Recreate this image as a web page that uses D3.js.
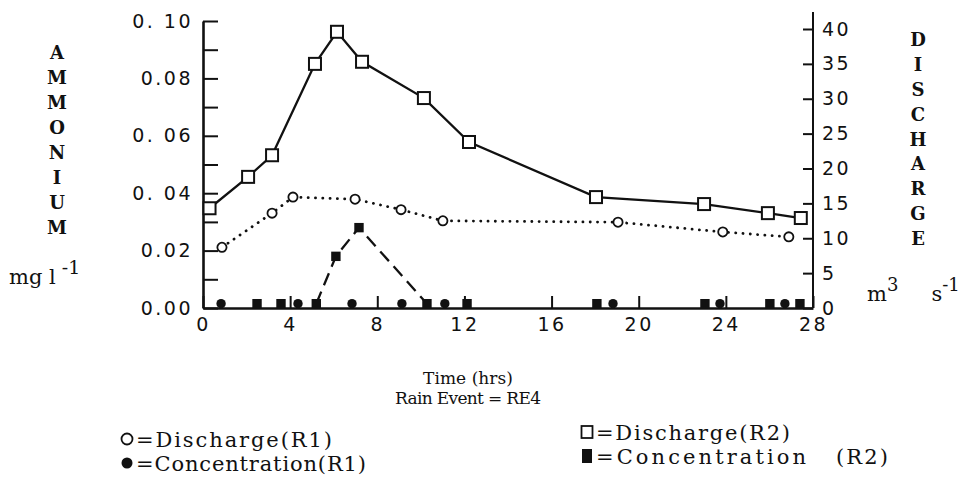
<!DOCTYPE html>
<html>
<head>
<meta charset="utf-8">
<script src="https://cdn.jsdelivr.net/npm/d3@7"></script>
<style>
  html, body { margin: 0; padding: 0; background: #fff; }
  svg { display: block; }
  .axis path, .axis line { stroke: #111; }
  .axis path { stroke-width: 2.6; }
  .axis line { stroke-width: 2; }
  .axis text {
    font-family: "DejaVu Sans", sans-serif;
    font-size: 19px;
    letter-spacing: 2.5px;
    fill: #111;
  }
  .type {
    font-family: "DejaVu Serif", serif;
    fill: #111;
  }
</style>
</head>
<body>
<svg id="chart" width="962" height="482"></svg>
<script>
// Rain event RE4
const hoursDischargeR2 = [0.3, 2.07, 3.17, 5.14, 6.15, 7.3, 10.14, 12.21, 18.04, 23.0, 25.93, 27.44];
const dischargeR2 = [14.3, 18.8, 21.9, 35.0, 39.6, 35.3, 30.1, 23.8, 15.9, 14.9, 13.6, 12.9];

const hoursDischargeR1 = [0.87, 3.17, 4.13, 6.98, 9.09, 11.01, 19.05, 23.86, 26.89];
const dischargeR1 = [8.7, 13.6, 15.9, 15.6, 14.1, 12.5, 12.3, 10.9, 10.2];

const hoursConcR2 = [2.48, 3.58, 5.2, 6.1, 7.16, 10.28, 12.12, 18.08, 23.04, 26.02, 27.4];
const concR2 = [0.0015, 0.0015, 0.0015, 0.018, 0.028, 0.0015, 0.0015, 0.0015, 0.0015, 0.0015, 0.0015];
// the dashed line only joins the samples of the ammonium pulse
const concR2Pulse = [5.2, 10.28];

const hoursConcR1 = [0.83, 4.36, 6.84, 9.13, 11.1, 18.82, 23.73, 26.71];
const concR1 = [0.0015, 0.0015, 0.0015, 0.0015, 0.0015, 0.0015, 0.0015, 0.0015];

const hourTicks = [0, 4, 8, 12, 16, 20, 24, 28];
const ammoniumTicks = [0, 0.01, 0.02, 0.03, 0.04, 0.05, 0.06, 0.07, 0.08, 0.09, 0.1];
const ammoniumTickLabels = ["0.00", "", "0.02", "", "0. 04", "", "0. 06", "", "0.08", "", "0. 10"];
const dischargeTicks = [0, 5, 10, 15, 20, 25, 30, 35, 40];

const leftTitle = "AMMONIUM";
const rightTitle = "DISCHARGE";

const legendItems = [
  { key: "dischargeR1", label: "=Discharge(R1)", tail: "", col: 0, row: 0, len: 196 },
  { key: "concR1", label: "=Concentration(R1)", tail: "", col: 0, row: 1, len: 230 },
  { key: "dischargeR2", label: "=Discharge(R2)", tail: "", col: 1, row: 0, len: 194 },
  { key: "concR2", label: "=Concentration", tail: "(R2)", col: 1, row: 1, len: 210 },
];

const zip = (xs, ys) => xs.map((x, i) => ({ t: x, v: ys[i] }));

const svg = d3.select("#chart");
const ink = "#111";

const margin = { top: 21, right: 149, bottom: 174, left: 203 };
const width = 962;
const height = 482;

const x = d3
  .scaleLinear()
  .domain([0, 28])
  .range([margin.left, width - margin.right]);
const yLeft = d3
  .scaleLinear()
  .domain([0, 0.1])
  .range([height - margin.bottom, margin.top]);
const yRight = d3
  .scaleLinear()
  .domain([0, 40])
  .range([height - margin.bottom, 29]);

// axes
svg
  .append("g")
  .attr("class", "axis")
  .attr("transform", `translate(0,${yLeft(0)})`)
  .call(
    d3
      .axisBottom(x)
      .tickValues(hourTicks)
      .tickSize(-12)
      .tickSizeOuter(0)
      .tickPadding(10)
  );

svg
  .append("g")
  .attr("class", "axis")
  .attr("transform", `translate(${x(0)},0)`)
  .call(
    d3
      .axisLeft(yLeft)
      .tickValues(ammoniumTicks)
      .tickFormat((d, i) => ammoniumTickLabels[i])
      .tickSize(-15)
      .tickSizeOuter(0)
      .tickPadding(10)
  );

const gRight = svg
  .append("g")
  .attr("class", "axis")
  .attr("transform", `translate(${x(28)},0)`)
  .call(
    d3
      .axisRight(yRight)
      .tickValues(dischargeTicks)
      .tickSize(-10)
      .tickSizeOuter(0)
      .tickPadding(9)
  );
gRight.select(".domain").remove();
gRight
  .append("line")
  .attr("y1", yRight(0))
  .attr("y2", yRight.range()[1] - 17)
  .attr("stroke", ink)
  .attr("stroke-width", 2.6);

// lines
const lineR = d3
  .line()
  .x((d) => x(d.t))
  .y((d) => yRight(d.v));
const lineL = d3
  .line()
  .x((d) => x(d.t))
  .y((d) => yLeft(d.v));

const dR2 = zip(hoursDischargeR2, dischargeR2);
const dR1 = zip(hoursDischargeR1, dischargeR1);
const cR2 = zip(hoursConcR2, concR2);
const cR1 = zip(hoursConcR1, concR1);

svg
  .append("path")
  .attr("d", lineR(dR2))
  .attr("fill", "none")
  .attr("stroke", ink)
  .attr("stroke-width", 2.3);

svg
  .append("path")
  .attr("d", lineR(dR1))
  .attr("fill", "none")
  .attr("stroke", ink)
  .attr("stroke-width", 2.8)
  .attr("stroke-linecap", "round")
  .attr("stroke-dasharray", "0.1 7.2");

svg
  .append("path")
  .attr(
    "d",
    lineL(cR2.filter((d) => d.t >= concR2Pulse[0] && d.t <= concR2Pulse[1]))
  )
  .attr("fill", "none")
  .attr("stroke", ink)
  .attr("stroke-width", 2.3)
  .attr("stroke-dasharray", "13 7");

// markers
const markers = {
  dischargeR2: (g) =>
    g
      .append("rect")
      .attr("x", -6)
      .attr("y", -6)
      .attr("width", 12)
      .attr("height", 12)
      .attr("fill", "#fff")
      .attr("stroke", ink)
      .attr("stroke-width", 2),
  dischargeR1: (g) =>
    g
      .append("circle")
      .attr("r", 4.6)
      .attr("fill", "#fff")
      .attr("stroke", ink)
      .attr("stroke-width", 1.8),
  concR2: (g) =>
    g
      .append("rect")
      .attr("x", -4.7)
      .attr("y", -4.7)
      .attr("width", 9.4)
      .attr("height", 9.4)
      .attr("fill", ink),
  concR1: (g) => g.append("circle").attr("r", 4.7).attr("fill", ink),
};

const drawMarkers = (data, key, yScale) => {
  svg
    .append("g")
    .selectAll("g")
    .data(data)
    .join("g")
    .attr("transform", (d) => `translate(${x(d.t)},${yScale(d.v)})`)
    .each(function () {
      markers[key](d3.select(this));
    });
};

drawMarkers(dR1, "dischargeR1", yRight);
drawMarkers(cR1, "concR1", yLeft);
drawMarkers(cR2, "concR2", yLeft);
drawMarkers(dR2, "dischargeR2", yRight);

// axis titles, stacked letters
const stackTitle = (letters, x0, y0, step) =>
  svg
    .append("g")
    .selectAll("text")
    .data(letters.split(""))
    .join("text")
    .attr("class", "type")
    .attr("x", x0)
    .attr("y", (d, i) => y0 + i * step)
    .attr("dy", "0.36em")
    .attr("text-anchor", "middle")
    .attr("font-size", 18)
    .attr("font-weight", "bold")
    .text((d) => d);

stackTitle(leftTitle, 57, 53, 25);
stackTitle(rightTitle, 918, 40, 24.8);

const unitLeft = svg
  .append("text")
  .attr("class", "type")
  .attr("x", 9)
  .attr("y", 284)
  .attr("font-size", 21);
unitLeft.append("tspan").text("mg l");
unitLeft
  .append("tspan")
  .attr("dx", 6)
  .attr("dy", -10)
  .attr("font-size", 19)
  .text("-1");

const unitRight = svg
  .append("text")
  .attr("class", "type")
  .attr("x", 867)
  .attr("y", 301)
  .attr("font-size", 21);
unitRight.append("tspan").text("m");
unitRight
  .append("tspan")
  .attr("dy", -10)
  .attr("font-size", 18)
  .text("3");
unitRight.append("tspan").attr("dy", 10).attr("dx", 33).text("s");
unitRight
  .append("tspan")
  .attr("dy", -10)
  .attr("font-size", 18)
  .text("-1");

svg
  .append("text")
  .attr("class", "type")
  .attr("x", 468)
  .attr("y", 384)
  .attr("text-anchor", "middle")
  .attr("font-size", 17)
  .attr("textLength", 90)
  .text("Time (hrs)");

svg
  .append("text")
  .attr("class", "type")
  .attr("x", 468)
  .attr("y", 404)
  .attr("text-anchor", "middle")
  .attr("font-size", 17)
  .attr("textLength", 146)
  .text("Rain Event = RE4");

// legend
const legendCols = [
  { x: 127, y: 439 },
  { x: 587, y: 432 },
];
const legend = svg
  .append("g")
  .selectAll("g")
  .data(legendItems)
  .join("g")
  .attr(
    "transform",
    (d) =>
      `translate(${legendCols[d.col].x},${legendCols[d.col].y + d.row * 24})`
  );

legend.each(function (d) {
  const g = d3.select(this);
  if (d.key === "dischargeR1") {
    g.append("circle")
      .attr("r", 5.5)
      .attr("fill", "#fff")
      .attr("stroke", ink)
      .attr("stroke-width", 1.8);
  } else if (d.key === "concR1") {
    g.append("circle").attr("r", 5.5).attr("fill", ink);
  } else if (d.key === "dischargeR2") {
    g.append("rect")
      .attr("x", -5.5)
      .attr("y", -6)
      .attr("width", 11)
      .attr("height", 12)
      .attr("fill", "#fff")
      .attr("stroke", ink)
      .attr("stroke-width", 1.8);
  } else {
    g.append("rect")
      .attr("x", -5)
      .attr("y", -7)
      .attr("width", 10)
      .attr("height", 14)
      .attr("fill", ink);
  }
  g.append("text")
    .attr("class", "type")
    .attr("x", 9)
    .attr("dy", "0.36em")
    .attr("font-size", 21)
    .attr("textLength", d.len)
    .text(d.label);
  if (d.tail) {
    g.append("text")
      .attr("class", "type")
      .attr("x", 9 + d.len + 30)
      .attr("dy", "0.36em")
      .attr("font-size", 21)
      .attr("textLength", 52)
      .text(d.tail);
  }
});
</script>
</body>
</html>
